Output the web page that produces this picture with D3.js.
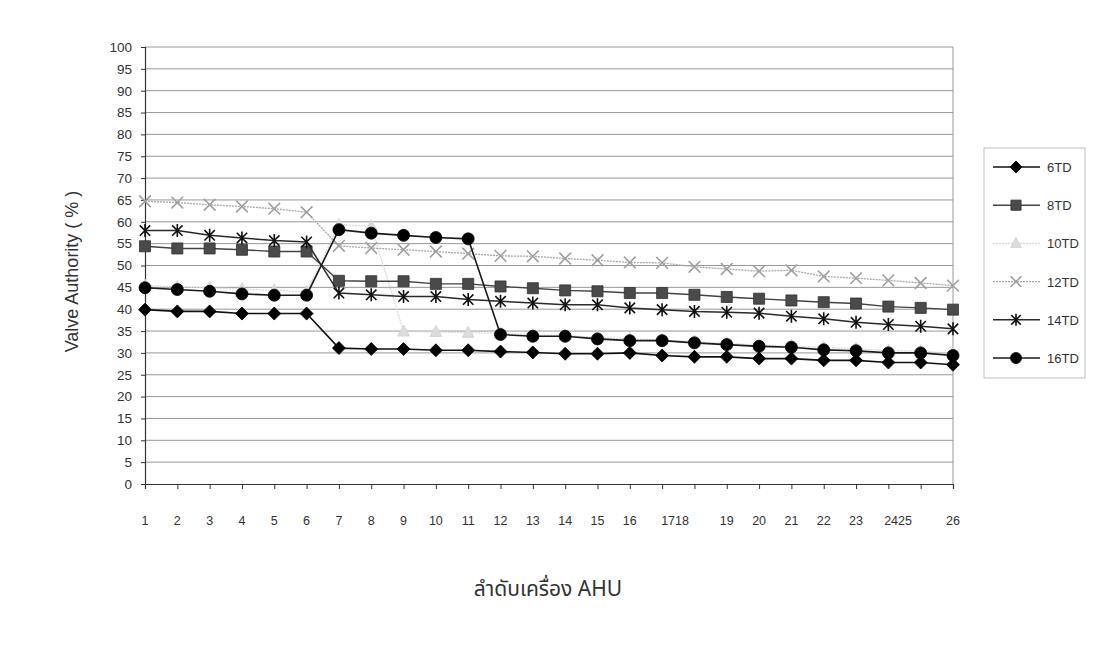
<!doctype html>
<html lang="th">
<head>
<meta charset="utf-8">
<title>Valve Authority</title>
<style>
  body { margin: 0; background: #fff; }
  svg { display: block; font-family: "Liberation Sans", Arial, "Noto Sans", sans-serif; }
</style>
</head>
<body>
<div id="chart"></div>
<script src="https://d3js.org/d3.v7.min.js"></script>
<script>
// categories: AHU numbers 1..26
var ahu = d3.range(1, 27);

// labels under the axis as printed (17/18 and 24/25 are run together)
var xLabels = ["1","2","3","4","5","6","7","8","9","10","11","12","13","14","15","16","1718","19","20","21","22","23","2425","26"];
var xLabelAt = [1,2,3,4,5,6,7,8,9,10,11,12,13,14,15,16,17.4,19,20,21,22,23,24.3,26];

var yTicks = d3.range(0, 101, 5);

// series values
var td6  = [39.9,39.5,39.5,39.0,39.0,39.0,31.1,30.9,30.9,30.6,30.6,30.3,30.1,29.8,29.8,30.0,29.4,29.1,29.1,28.7,28.7,28.3,28.3,27.8,27.8,27.3];
var td8  = [54.4,53.9,53.9,53.6,53.2,53.2,46.5,46.4,46.4,45.8,45.8,45.2,44.8,44.3,44.1,43.7,43.7,43.3,42.8,42.4,42.0,41.6,41.3,40.6,40.3,39.9];
var td10 = [45.4,45.1,44.9,44.6,44.3,44.0,59.3,59.0,34.9,34.8,34.6,34.5,34.1,34.0,33.5,33.2,33.0,32.6,32.2,31.8,31.6,31.2,31.0,30.5,30.4,29.9];
var td12 = [64.7,64.4,63.9,63.5,63.0,62.2,54.5,54.0,53.6,53.2,52.7,52.2,52.1,51.6,51.2,50.7,50.6,49.7,49.2,48.7,48.9,47.5,47.1,46.6,46.0,45.4];
var td14 = [58.0,58.0,56.9,56.3,55.7,55.4,43.7,43.3,42.9,42.9,42.2,41.8,41.4,41.0,41.0,40.3,39.9,39.5,39.3,39.1,38.4,37.8,37.0,36.5,36.1,35.5];
var td16 = [44.9,44.5,44.1,43.5,43.2,43.2,58.2,57.4,56.9,56.4,56.1,34.2,33.8,33.8,33.2,32.8,32.8,32.3,31.9,31.5,31.3,30.7,30.5,30.0,30.0,29.4];

var seriesNames = ["6TD","8TD","10TD","12TD","14TD","16TD"];
var seriesValues = [td6, td8, td10, td12, td14, td16];

// look of each series
var styles = {
  "6TD":  {line: "#111", dash: null,  marker: "diamond",  fill: "#000", stroke: "#000", width: 1.6},
  "8TD":  {line: "#444", dash: null,  marker: "square",   fill: "#4a4a4a", stroke: "#333", width: 1.4},
  "10TD": {line: "#d8d8d8", dash: "2,1", marker: "triangle", fill: "#dcdcdc", stroke: "#d0d0d0", width: 1.2},
  "12TD": {line: "#a8a8a8", dash: "2,1", marker: "x",      fill: "none", stroke: "#a0a0a0", width: 1.3},
  "14TD": {line: "#2a2a2a", dash: null,  marker: "asterisk", fill: "none", stroke: "#111", width: 1.5},
  "16TD": {line: "#1a1a1a", dash: null,  marker: "circle",   fill: "#000", stroke: "#000", width: 1.6}
};

var W = 1095, H = 649;
var svg = d3.select("#chart").append("svg")
  .attr("width", W)
  .attr("height", H);

var plot = {left: 145, right: 953, top: 47, bottom: 484};

var x = d3.scaleLinear().domain([1, 26]).range([plot.left, plot.right]);
var y = d3.scaleLinear().domain([0, 100]).range([plot.bottom, plot.top]);

// horizontal grid
svg.append("g")
  .selectAll("line")
  .data(yTicks.filter(function(d){ return d > 0; }))
  .enter().append("line")
    .attr("x1", plot.left).attr("x2", plot.right)
    .attr("y1", function(d){ return y(d); })
    .attr("y2", function(d){ return y(d); })
    .attr("stroke", "#8c8c8c")
    .attr("stroke-width", 0.9);

// right border of the plot area
svg.append("line")
  .attr("x1", plot.right).attr("x2", plot.right)
  .attr("y1", plot.top).attr("y2", plot.bottom)
  .attr("stroke", "#8c8c8c").attr("stroke-width", 0.9);

// y axis
var yAxis = svg.append("g")
  .attr("transform", "translate(" + plot.left + ",0)")
  .call(d3.axisLeft(y).tickValues(yTicks).tickSize(4).tickPadding(9));
yAxis.select(".domain").attr("stroke", "#333").attr("stroke-width", 1.2);
yAxis.selectAll(".tick line").attr("stroke", "#333");
yAxis.selectAll("text").attr("font-size", "13.5px").attr("fill", "#333")
  .style("font-family", "'Liberation Sans', Arial, sans-serif");

// x axis: tick marks only, labels drawn separately below
var xAxis = svg.append("g")
  .attr("transform", "translate(0," + plot.bottom + ")")
  .call(d3.axisBottom(x).tickValues(ahu).tickSize(5).tickFormat(""));
xAxis.select(".domain").attr("stroke", "#333").attr("stroke-width", 1.2);
xAxis.selectAll(".tick line").attr("stroke", "#333");

svg.append("g")
  .selectAll("text")
  .data(xLabels)
  .enter().append("text")
    .attr("x", function(d, i){ return x(xLabelAt[i]); })
    .attr("y", 525)
    .attr("text-anchor", "middle")
    .attr("font-size", "12.5px")
    .attr("fill", "#333")
    .text(function(d){ return d; });

// axis titles
svg.append("text")
  .attr("transform", "translate(78," + ((plot.top + plot.bottom) / 2 + 6) + ") rotate(-90)")
  .attr("text-anchor", "middle")
  .attr("font-size", "18px")
  .attr("fill", "#333")
  .text("Valve Authority ( % )");

svg.append("text")
  .attr("x", 548)
  .attr("y", 596)
  .attr("text-anchor", "middle")
  .attr("font-size", "21px")
  .attr("fill", "#333")
  .style("font-family", "'Noto Sans Thai', 'Noto Sans', 'Liberation Sans', sans-serif")
  .text("ลำดับเครื่อง AHU");

// marker shapes
function markerPath(kind, s) {
  if (kind === "diamond") return "M0," + (-s) + "L" + s + ",0L0," + s + "L" + (-s) + ",0Z";
  if (kind === "square") { var h = s * 0.85; return "M" + (-h) + "," + (-h) + "H" + h + "V" + h + "H" + (-h) + "Z"; }
  if (kind === "triangle") return "M0," + (-s) + "L" + (s * 0.9) + "," + (s * 0.7) + "L" + (-s * 0.9) + "," + (s * 0.7) + "Z";
  if (kind === "circle") return d3.symbol().type(d3.symbolCircle).size(Math.PI * s * s)();
  if (kind === "x") { var k = s * 0.9; return "M" + (-k) + "," + (-k) + "L" + k + "," + k + "M" + k + "," + (-k) + "L" + (-k) + "," + k; }
  if (kind === "asterisk") {
    var a = s * 0.8;
    return "M0," + (-s) + "V" + s + "M" + (-a) + "," + (-a) + "L" + a + "," + a + "M" + a + "," + (-a) + "L" + (-a) + "," + a;
  }
}

var line = d3.line()
  .x(function(d, i){ return x(ahu[i]); })
  .y(function(d){ return y(d); });

// draw the pale series first so the dark ones stay on top
var drawOrder = ["10TD", "12TD", "8TD", "14TD", "16TD", "6TD"];

drawOrder.forEach(function(name) {
  var vals = seriesValues[seriesNames.indexOf(name)];
  var st = styles[name];
  var g = svg.append("g");
  g.append("path")
    .datum(vals)
    .attr("d", line)
    .attr("fill", "none")
    .attr("stroke", st.line)
    .attr("stroke-width", st.width)
    .attr("stroke-dasharray", st.dash);
  var size = st.marker === "circle" ? 6 : 6.5;
  g.selectAll("path.mk")
    .data(vals)
    .enter().append("path")
      .attr("class", "mk")
      .attr("transform", function(d, i){ return "translate(" + x(ahu[i]) + "," + y(d) + ")"; })
      .attr("d", markerPath(st.marker, size))
      .attr("fill", st.fill)
      .attr("stroke", st.stroke)
      .attr("stroke-width", (st.marker === "x" || st.marker === "asterisk") ? 1.6 : 0.8);
});

// legend
var legend = svg.append("g").attr("transform", "translate(984,148)");
legend.append("rect")
  .attr("width", 101).attr("height", 230)
  .attr("fill", "#fff")
  .attr("stroke", "#b0b0b0")
  .attr("stroke-width", 0.8);

seriesNames.forEach(function(name, i) {
  var st = styles[name];
  var row = legend.append("g").attr("transform", "translate(0," + (19 + i * 38.2) + ")");
  row.append("line")
    .attr("x1", 9).attr("x2", 56)
    .attr("stroke", st.line)
    .attr("stroke-width", st.width)
    .attr("stroke-dasharray", st.dash);
  row.append("path")
    .attr("transform", "translate(32,0)")
    .attr("d", markerPath(st.marker, st.marker === "circle" ? 5.5 : 6))
    .attr("fill", st.fill)
    .attr("stroke", st.stroke)
    .attr("stroke-width", (st.marker === "x" || st.marker === "asterisk") ? 1.6 : 0.8);
  row.append("text")
    .attr("x", 63).attr("y", 5)
    .attr("font-size", "13px")
    .attr("fill", "#333")
    .text(name);
});
</script>
</body>
</html>
